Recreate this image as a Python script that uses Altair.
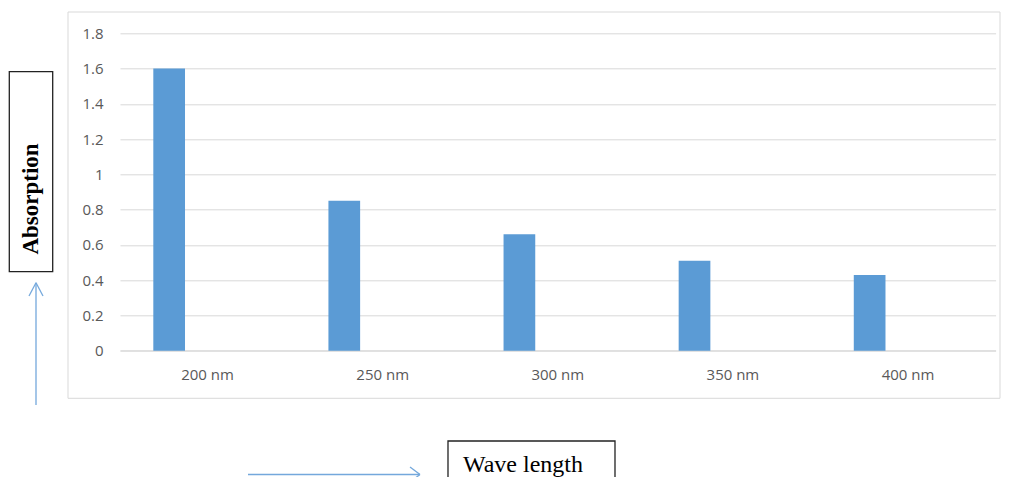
import altair as alt
import pandas as pd

categories = ["200 nm", "250 nm", "300 nm", "350 nm", "400 nm"]
absorption = [1.6, 0.85, 0.66, 0.51, 0.43]
y_ticks = [0, 0.2, 0.4, 0.6, 0.8, 1.0, 1.2, 1.4, 1.6, 1.8]

df = pd.DataFrame({"wavelength": categories, "absorption": absorption})

W, H = 875.6, 317.4
GRID = "#D9D9D9"
LABEL = "#595959"
BAR = "#5B9BD5"
ARROW = "#74A8DC"
SERIF = "Liberation Serif"

bars = alt.Chart(df).mark_bar(color=BAR, width=31.7, xOffset=-38.4).encode(
    x=alt.X(
        "wavelength:N",
        sort=categories,
        scale=alt.Scale(paddingInner=0, paddingOuter=0),
        axis=alt.Axis(
            title=None, labelAngle=0, ticks=False, domainColor=GRID,
            labelFont="Open Sans", labelFontSize=15, labelColor=LABEL,
            labelPadding=17,
        ),
    ),
    y=alt.Y(
        "absorption:Q",
        scale=alt.Scale(domain=[0, 1.8], nice=False),
        axis=alt.Axis(
            title=None, values=y_ticks, format=".1~f", domain=False,
            ticks=False, gridColor=GRID, labelFont="Open Sans",
            labelFontSize=15, labelColor=LABEL, labelPadding=17,
        ),
    ),
)

one = alt.Data(values=[{"k": 1}])


def seg(x1, y1, x2, y2, color=ARROW, width=1.3):
    return alt.Chart(one).mark_rule(color=color, strokeWidth=width).encode(
        x=alt.value(x1), y=alt.value(y1), x2=alt.value(x2), y2=alt.value(y2)
    )


def box(x1, y1, x2, y2, color, width):
    return alt.Chart(one).mark_rect(filled=False, stroke=color, strokeWidth=width).encode(
        x=alt.value(x1), y=alt.value(y1), x2=alt.value(x2), y2=alt.value(y2)
    )


border = box(-52, -21.3, 880, 365, GRID, 1)
abs_box = box(-110.7, 38.4, -67.3, 238.4, "#222222", 1.3)
abs_text = alt.Chart(one).mark_text(
    text="Absorption", font=SERIF, fontSize=23, fontWeight="bold", angle=270,
    align="center", baseline="middle", color="#000000"
).encode(x=alt.value(-89), y=alt.value(165.7))

wl_box = box(328, 407.7, 495, 480, "#222222", 1.3)
wl_text = alt.Chart(one).mark_text(
    text="Wave length", font=SERIF, fontSize=24, align="left",
    baseline="alphabetic", color="#000000"
).encode(x=alt.value(343), y=alt.value(438.7))

# up arrow
up_shaft = seg(-84, 371.7, -84, 249.4)
up_l = seg(-84, 249.4, -91, 262.7)
up_r = seg(-84, 249.4, -77, 262.7)
# right arrow
rt_shaft = seg(128, 441.2, 300, 441.2)
rt_u = seg(300, 441.2, 290, 433.7)
rt_d = seg(300, 441.2, 290, 448.7)

chart = alt.layer(
    border, bars, abs_box, abs_text, wl_box, wl_text,
    up_shaft, up_l, up_r, rt_shaft, rt_u, rt_d,
).properties(
    width=W, height=H,
    autosize=alt.AutoSizeParams(type="none"),
    padding={"left": 112, "top": 25.3, "right": 5, "bottom": 126.3},
).configure_view(stroke=None)

chart.save("out.html", embed_options={"renderer": "svg", "actions": False})
